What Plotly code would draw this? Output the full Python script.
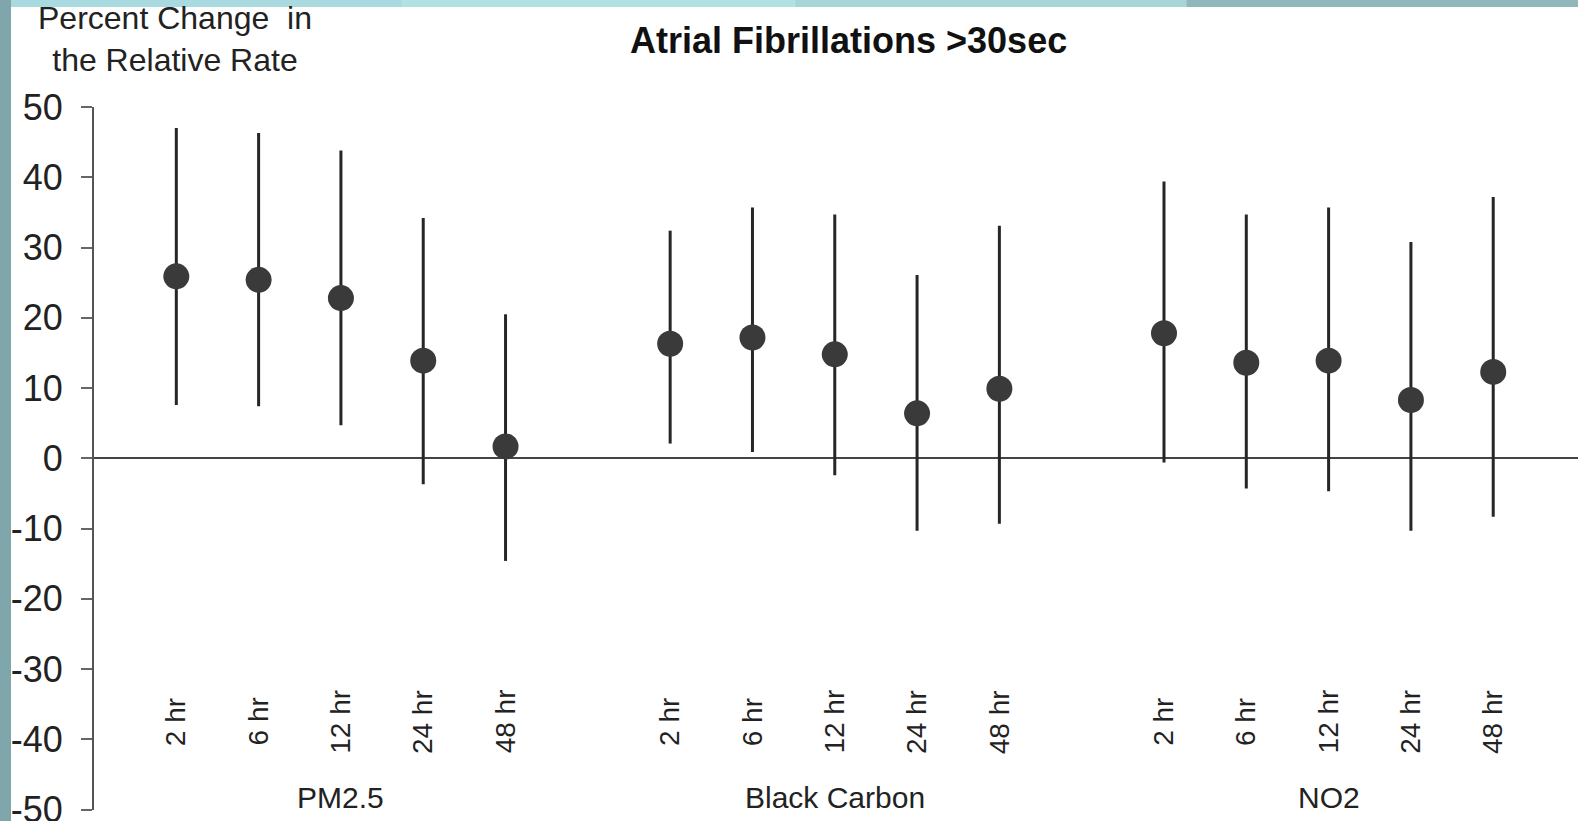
import plotly.graph_objects as go

lags = ["2 hr", "6 hr", "12 hr", "24 hr", "48 hr"]
pollutants = ["PM2.5", "Black Carbon", "NO2"]

estimate = {
    "PM2.5": [25.9, 25.4, 22.8, 13.9, 1.7],
    "Black Carbon": [16.3, 17.2, 14.8, 6.4, 9.9],
    "NO2": [17.8, 13.6, 13.9, 8.3, 12.3],
}
lower = {
    "PM2.5": [7.6, 7.4, 4.7, -3.7, -14.6],
    "Black Carbon": [2.1, 0.9, -2.4, -10.3, -9.3],
    "NO2": [-0.6, -4.3, -4.7, -10.3, -8.3],
}
upper = {
    "PM2.5": [47.0, 46.3, 43.8, 34.2, 20.5],
    "Black Carbon": [32.4, 35.7, 34.7, 26.1, 33.1],
    "NO2": [39.4, 34.7, 35.7, 30.8, 37.2],
}
y_ticks = [50, 40, 30, 20, 10, 0, -10, -20, -30, -40, -50]

FONT = "Liberation Sans, Arial, sans-serif"
W, H = 1578, 821
ML, MR, MT, MB = 94, 0, 107, 11
PW, PH = W - ML - MR, H - MT - MB

fig = go.Figure()
annotations = []
for g, pol in enumerate(pollutants):
    xs = [g * 6 + i for i in range(len(lags))]
    est = estimate[pol]
    fig.add_trace(go.Scatter(
        x=xs, y=est, mode="markers",
        marker=dict(size=26, color="#3a3a3a"),
        error_y=dict(type="data", symmetric=False,
                     array=[u - e for u, e in zip(upper[pol], est)],
                     arrayminus=[e - l for e, l in zip(est, lower[pol])],
                     color="#262626", thickness=3, width=0),
        showlegend=False, name=pol,
    ))
    for x, lag in zip(xs, lags):
        annotations.append(dict(x=x, y=-37.5, xref="x", yref="y", text=lag,
                                textangle=-90, showarrow=False,
                                font=dict(family=FONT, size=28, color="#222"),
                                xanchor="center", yanchor="middle"))
    annotations.append(dict(x=xs[2], y=-48.3, xref="x", yref="y", text=pol,
                            showarrow=False,
                            font=dict(family=FONT, size=30, color="#222"),
                            xanchor="center", yanchor="middle"))

annotations.append(dict(x=(175 - ML) / PW, y=(H - MB - 39) / PH, xref="paper", yref="paper",
                        text="Percent Change  in<br>the Relative Rate", showarrow=False,
                        font=dict(family=FONT, size=32, color="#222"),
                        xanchor="center", yanchor="middle", align="center"))
annotations.append(dict(x=(849 - ML) / PW, y=(H - MB - 40) / PH, xref="paper", yref="paper",
                        text="<b>Atrial Fibrillations >30sec</b>", showarrow=False,
                        font=dict(family=FONT, size=36, color="#111"),
                        xanchor="center", yanchor="middle"))

shapes = [
    dict(type="rect", xref="paper", yref="paper",
         x0=-ML / PW - 0.01, x1=(11 - ML) / PW, y0=-MB / PH - 0.01, y1=(H - MB) / PH + 0.01,
         fillcolor="#7ea6ab", line=dict(width=0), layer="above"),
]
top_cols = ["#a9dadf", "#b0e1e5", "#a6d6da", "#90b8bc"]
n = len(top_cols)
for k, c in enumerate(top_cols):
    shapes.append(dict(type="rect", xref="paper", yref="paper",
                       x0=(11 - ML) / PW + k * (W - 11) / PW / n,
                       x1=(11 - ML) / PW + (k + 1) * (W - 11) / PW / n + (0.01 if k == n - 1 else 0),
                       y0=(H - MB - 7) / PH, y1=(H - MB) / PH + 0.01,
                       fillcolor=c, line=dict(width=0), layer="above"))

fig.update_layout(
    width=W, height=H,
    margin=dict(l=ML, r=MR, t=MT, b=MB, pad=0),
    paper_bgcolor="white", plot_bgcolor="white",
    annotations=annotations, shapes=shapes,
    xaxis=dict(range=[-1, 17.03], showticklabels=False, showgrid=False,
               zeroline=False, showline=False, ticks="", automargin=False),
    yaxis=dict(range=[-50.05, 50], tickvals=y_ticks, ticktext=[str(v) for v in y_ticks],
               showgrid=False, zeroline=True, zerolinecolor="#444", zerolinewidth=2,
               showline=True, linecolor="#555", linewidth=2,
               ticks="outside", ticklen=11, tickwidth=2, tickcolor="#666",
               ticklabelstandoff=11, automargin=False, ticklabeloverflow="allow",
               tickfont=dict(family=FONT, size=36, color="#222")),
)

fig.write_html("out.html", config={"displayModeBar": False},
               post_script="document.body.style.margin='0';document.body.style.overflow='hidden';")
